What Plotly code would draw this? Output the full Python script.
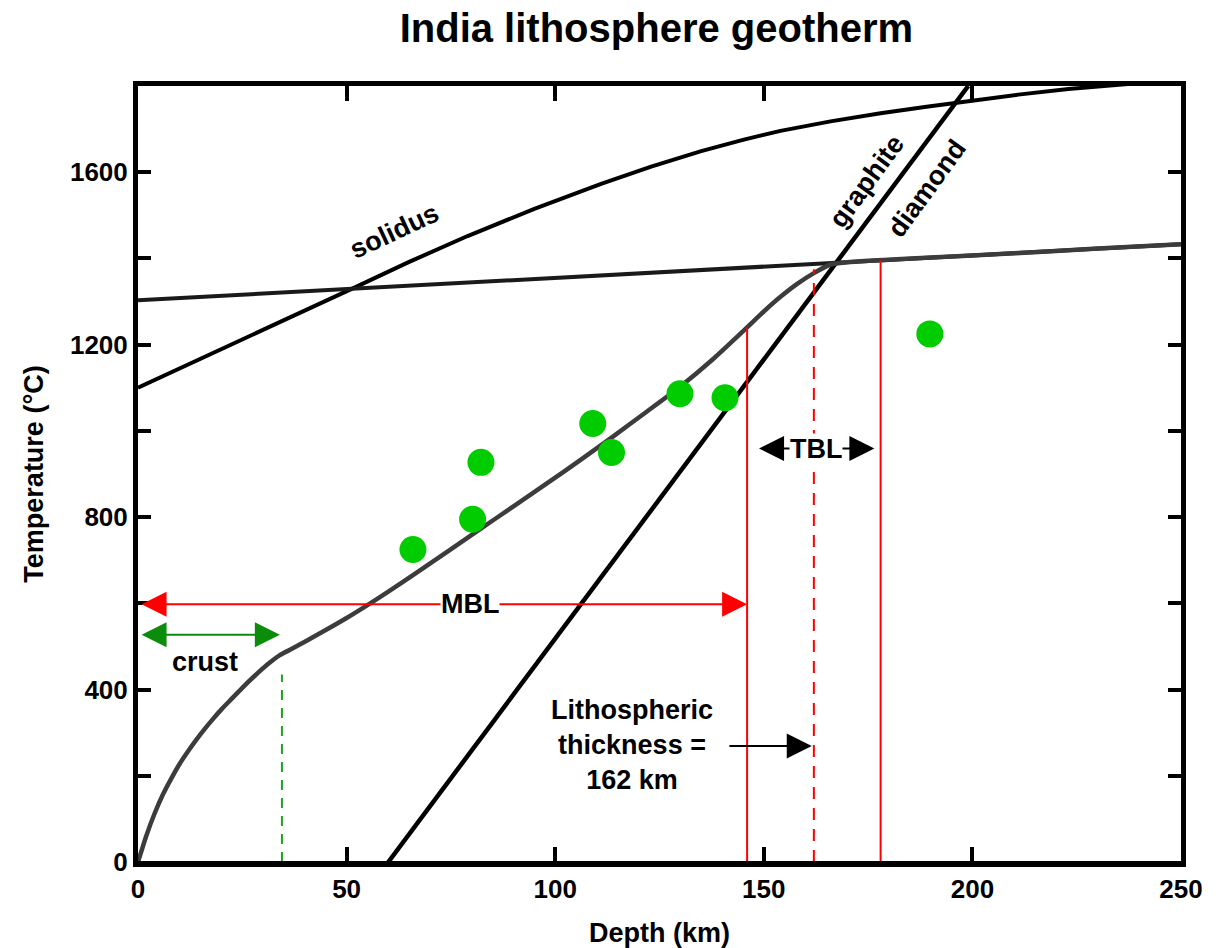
import plotly.graph_objects as go

# ---- data (depth in km, temperature in °C) ----
solidus_depth = [0, 20, 39, 52, 65, 79, 95, 111, 123, 135, 145, 154, 166, 178, 189, 199, 211, 223, 240, 250]
solidus_temp = [1100, 1189, 1273, 1333, 1392, 1452, 1515, 1573, 1613, 1649, 1675, 1696, 1718, 1737, 1752,
                1765, 1780, 1793, 1808, 1815]

adiabat_depth = [0, 250]
adiabat_temp = [1303, 1433]

graphite_diamond_depth = [60, 199]
graphite_diamond_temp = [0, 1800]

geotherm_depth = [0, 2, 4, 6, 8, 10, 12, 14, 16, 18, 20, 22, 25, 28, 31, 34, 37, 40, 45, 50, 55, 60,
                  66, 74, 82, 90, 98, 106, 114, 122, 130, 138, 146, 150, 154, 158, 162, 166,
                  170, 190, 210, 230, 250]
geotherm_temp = [0, 61, 113, 157, 194, 228, 257, 284, 309, 332, 354, 374, 404, 432, 458, 480, 495, 511,
                 538, 566, 596, 627, 666, 719, 772, 825, 878, 932, 988, 1045, 1103, 1168, 1240, 1277,
                 1311, 1341, 1366, 1386, 1391, 1402, 1412, 1423, 1433]

xenolith_depth = [65.9, 80.2, 82.2, 109.0, 113.5, 129.9, 140.7, 189.8]
xenolith_temp = [725, 795, 927, 1017, 950, 1086, 1077, 1225]

mbl_base = 146        # mechanical boundary layer base
mbl_base_temp = 1240
lith_thickness = 162  # lithospheric thickness
lith_thickness_temp = 1375
tbl_base = 178        # thermal boundary layer base
tbl_base_temp = 1396
moho = 34.5
moho_temp = 435

x_ticks = [0, 50, 100, 150, 200, 250]
y_ticks = [0, 400, 800, 1200, 1600]

FONT = "Liberation Sans, Arial, Helvetica, sans-serif"
GREEN_DARK = "#0b8c0b"
RED = "#ff0000"

fig = go.Figure()

fig.add_trace(go.Scatter(x=solidus_depth, y=solidus_temp, mode="lines",
                         line=dict(color="black", width=4),
                         showlegend=False, hoverinfo="skip"))
fig.add_trace(go.Scatter(x=adiabat_depth, y=adiabat_temp, mode="lines",
                         line=dict(color="#1a1a1a", width=4),
                         showlegend=False, hoverinfo="skip"))
fig.add_trace(go.Scatter(x=graphite_diamond_depth, y=graphite_diamond_temp, mode="lines",
                         line=dict(color="black", width=4.5),
                         showlegend=False, hoverinfo="skip"))
fig.add_trace(go.Scatter(x=geotherm_depth, y=geotherm_temp, mode="lines",
                         line=dict(color="#3c3c3c", width=4.5, shape="spline", smoothing=0.6),
                         showlegend=False, hoverinfo="skip"))

# vertical markers for MBL base, lithospheric thickness, TBL base and Moho
fig.add_trace(go.Scatter(x=[mbl_base, mbl_base], y=[0, mbl_base_temp], mode="lines",
                         line=dict(color=RED, width=2), showlegend=False, hoverinfo="skip"))
fig.add_trace(go.Scatter(x=[lith_thickness, lith_thickness], y=[0, lith_thickness_temp], mode="lines",
                         line=dict(color=RED, width=2, dash="12px,9px"), showlegend=False, hoverinfo="skip"))
fig.add_trace(go.Scatter(x=[tbl_base, tbl_base], y=[0, tbl_base_temp], mode="lines",
                         line=dict(color=RED, width=2), showlegend=False, hoverinfo="skip"))
fig.add_trace(go.Scatter(x=[moho, moho], y=[0, moho_temp], mode="lines",
                         line=dict(color="#22a022", width=2, dash="10px,8px"), showlegend=False, hoverinfo="skip"))

fig.add_trace(go.Scatter(x=xenolith_depth, y=xenolith_temp, mode="markers",
                         marker=dict(color="#00cc00", size=27, line=dict(width=0)),
                         showlegend=False, hoverinfo="skip"))

# bottom inner line at T = 0
fig.add_shape(type="line", x0=0, x1=250, y0=0, y1=0, xref="x", yref="y",
              line=dict(color="black", width=2))

lab = dict(family=FONT, size=27, color="black", weight="bold")


def double_arrow(x0, x1, y, color):
    fig.add_annotation(x=x1, y=y, ax=x0, ay=y, xref="x", yref="y", axref="x", ayref="y",
                       text="", showarrow=True, arrowhead=2, arrowside="end+start",
                       arrowsize=2.5, arrowwidth=2, arrowcolor=color, standoff=0, startstandoff=0)


double_arrow(0.5, mbl_base, 598, RED)
double_arrow(0.5, 34, 527, GREEN_DARK)
double_arrow(148.5, 176.5, 959, "black")

fig.add_annotation(x=161.5, y=269, ax=141.4, ay=269, xref="x", yref="y", axref="x", ayref="y",
                   text="", showarrow=True, arrowhead=2, arrowsize=2.5, arrowwidth=2,
                   arrowcolor="black", standoff=0)

fig.add_annotation(x=79.5, y=598, text="MBL", showarrow=False, font=lab, bgcolor="white", borderpad=0)
fig.add_annotation(x=162.5, y=959, text="TBL", showarrow=False, font=lab, bgcolor="white", borderpad=0)
fig.add_annotation(x=16, y=463, text="crust", showarrow=False, font=lab)
fig.add_annotation(x=118.5, y=272, text="Lithospheric<br>thickness =<br>162 km", showarrow=False,
                   font=lab, align="center")
fig.add_annotation(x=61.5, y=1464, text="solidus", showarrow=False, font=lab, textangle=-25)
fig.add_annotation(x=174.7, y=1580, text="graphite", showarrow=False, font=lab, textangle=-54)
fig.add_annotation(x=189.1, y=1564, text="diamond", showarrow=False, font=lab, textangle=-54)

fig.update_layout(
    width=1220, height=948,
    margin=dict(l=138, r=39, t=86, b=86),
    paper_bgcolor="white", plot_bgcolor="white",
    font=dict(family=FONT, color="black"),
    title=dict(text="India lithosphere geotherm", x=0.538, xanchor="center",
               y=1 - 28 / 948, yanchor="middle",
               font=dict(family=FONT, size=40, color="black", weight="bold")),
)

fig.update_xaxes(range=[0, 250], tickvals=x_ticks, ticktext=[str(v) for v in x_ticks],
                 ticks="inside", ticklen=15, tickwidth=4, tickcolor="black",
                 showline=True, linewidth=5, linecolor="black", mirror="ticks",
                 showgrid=False, zeroline=False, automargin=False,
                 tickfont=dict(family=FONT, size=26, color="black", weight="bold"),
                 title=dict(text="Depth (km)", standoff=23,
                            font=dict(family=FONT, size=27, color="black", weight="bold")))
fig.update_yaxes(range=[0, 1800], tickvals=y_ticks, ticktext=[str(v) for v in y_ticks],
                 ticks="inside", ticklen=13, tickwidth=4, tickcolor="black",
                 minor=dict(dtick=200, ticks="inside", ticklen=13, tickwidth=4, tickcolor="black"),
                 showline=True, linewidth=5, linecolor="black", mirror="ticks",
                 showgrid=False, zeroline=False, automargin=False,
                 tickfont=dict(family=FONT, size=26, color="black", weight="bold"),
                 title=dict(text="Temperature (°C)", standoff=20,
                            font=dict(family=FONT, size=27, color="black", weight="bold")))

fig.write_html("out.html")
